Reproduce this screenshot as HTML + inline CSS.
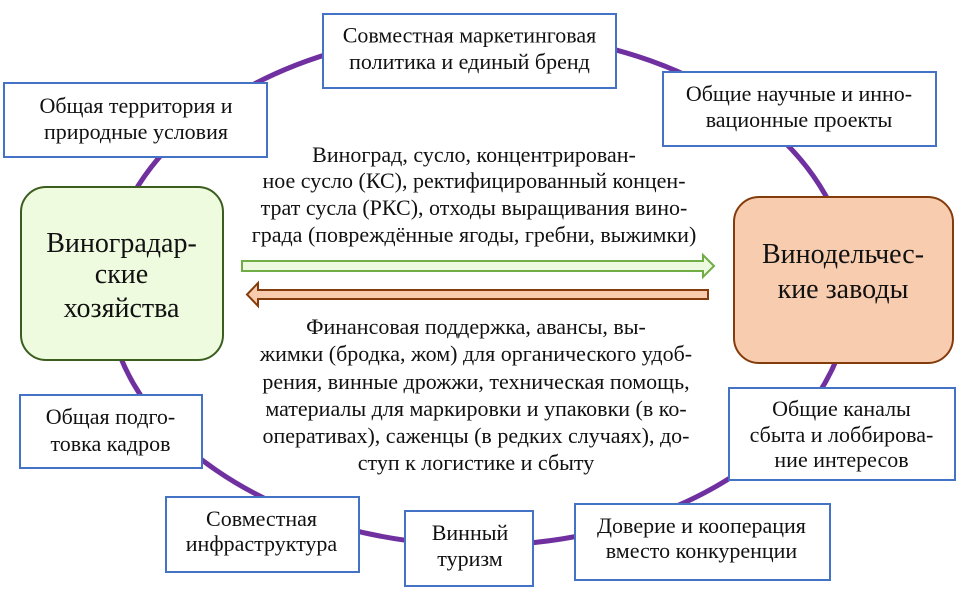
<!DOCTYPE html>
<html>
<head>
<meta charset="utf-8">
<style>
  html, body { margin:0; padding:0; background:#ffffff; }
  body { width:963px; height:589px; overflow:hidden; }
  svg { display:block; }
  text { font-family: "Liberation Serif", "Noto Serif CJK SC", serif; fill:#111; }
  .s { font-size:22px; }
  .b { font-size:28px; }
  .m { font-size:22px; }
</style>
</head>
<body>
<svg width="963" height="589" viewBox="0 0 963 589" xmlns="http://www.w3.org/2000/svg">
  <!-- purple ring -->
  <ellipse cx="479" cy="288.6" rx="372" ry="256.7" fill="none" stroke="#7030A0" stroke-width="5"/>

  <!-- blue boxes -->
  <g fill="#ffffff" stroke="#4472C4" stroke-width="2">
    <rect x="323" y="14" width="293" height="74"/>
    <rect x="4" y="83" width="263" height="74"/>
    <rect x="663" y="72" width="273" height="74"/>
    <rect x="20" y="395" width="182" height="73"/>
    <rect x="166" y="497" width="193" height="75"/>
    <rect x="405" y="511" width="128" height="75"/>
    <rect x="575" y="504" width="255" height="76"/>
    <rect x="729" y="388" width="226" height="92"/>
  </g>

  <!-- main rounded boxes -->
  <rect x="21" y="187" width="202" height="173" rx="25" ry="25" fill="#EEFBDF" stroke="#3B5E1F" stroke-width="2"/>
  <rect x="734" y="197" width="219" height="166" rx="25" ry="25" fill="#F8CDAF" stroke="#843C0C" stroke-width="2"/>

  <!-- arrows -->
  <polygon points="242,261 703,261 703,255 714,266 703,277 703,271 242,271" fill="#EDFADF" stroke="#70AD47" stroke-width="2" stroke-linejoin="miter"/>
  <polygon points="708,290 258,290 258,283 247,294.5 258,306 258,299 708,299" fill="#F8CBAD" stroke="#843C0C" stroke-width="2" stroke-linejoin="miter"/>

  <!-- box texts -->
  <g class="s" text-anchor="middle">
    <text x="469.5" y="42.5">Совместная маркетинговая</text>
    <text x="469.5" y="69">политика и единый бренд</text>

    <text x="136" y="113">Общая территория и</text>
    <text x="136" y="139">природные условия</text>

    <text x="799" y="101">Общие научные и инно-</text>
    <text x="799" y="127">вационные проекты</text>

    <text x="110.5" y="424">Общая подго-</text>
    <text x="110.5" y="451">товка кадров</text>

    <text x="261.5" y="526">Совместная</text>
    <text x="261.5" y="551">инфраструктура</text>

    <text x="470" y="540">Винный</text>
    <text x="470" y="566">туризм</text>

    <text x="701.5" y="533">Доверие и кооперация</text>
    <text x="701.5" y="558">вместо конкуренции</text>

    <text x="841.5" y="416">Общие каналы</text>
    <text x="841.5" y="442">сбыта и лоббирова-</text>
    <text x="841.5" y="467">ние интересов</text>
  </g>

  <g class="b" text-anchor="middle">
    <text x="121.5" y="252">Виноградар-</text>
    <text x="121.5" y="283">ские</text>
    <text x="121.5" y="317">хозяйства</text>

    <text x="843" y="263">Винодельчес-</text>
    <text x="843" y="298">кие заводы</text>
  </g>

  <!-- middle texts -->
  <g class="m" text-anchor="middle">
    <text x="474" y="162">Виноград, сусло, концентрирован-</text>
    <text x="474" y="188">ное сусло (КС), ректифицированный концен-</text>
    <text x="474" y="215">трат сусла (РКС), отходы выращивания вино-</text>
    <text x="474" y="242">града (повреждённые ягоды, гребни, выжимки)</text>

    <text x="476" y="334">Финансовая поддержка, авансы, вы-</text>
    <text x="476" y="361">жимки (бродка, жом) для органического удоб-</text>
    <text x="476" y="389">рения, винные дрожжи, техническая помощь,</text>
    <text x="476" y="416">материалы для маркировки и упаковки (в ко-</text>
    <text x="476" y="443">оперативах), саженцы (в редких случаях), до-</text>
    <text x="476" y="470">ступ к логистике и сбыту</text>
  </g>
</svg>
</body>
</html>
